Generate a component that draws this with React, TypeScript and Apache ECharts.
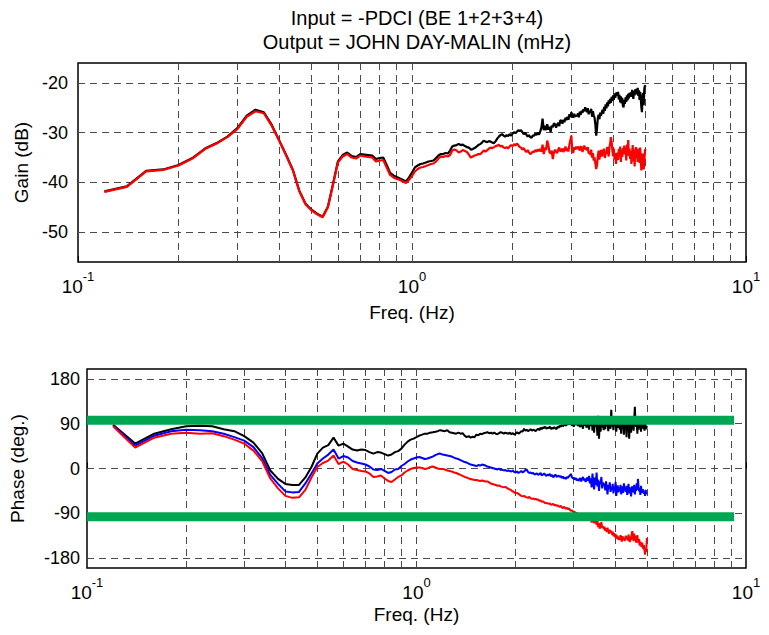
import React, { useEffect, useRef } from "react";
import * as echarts from "echarts";

// Frequency grid (Hz)
const FREQ = [
  0.12, 0.14, 0.16, 0.18, 0.2, 0.22, 0.24, 0.26, 0.28, 0.3,
  0.32, 0.34, 0.36, 0.38, 0.4, 0.42, 0.44, 0.46, 0.48, 0.5,
  0.52, 0.54, 0.56, 0.58, 0.6, 0.62, 0.64, 0.66, 0.68, 0.7,
  0.72, 0.74, 0.76, 0.78, 0.8, 0.82, 0.84, 0.86, 0.88, 0.9,
  0.92, 0.94, 0.96, 0.98, 1.0, 1.02, 1.04, 1.06, 1.08, 1.1,
  1.12, 1.14, 1.16, 1.18, 1.2, 1.22, 1.24, 1.26, 1.28, 1.3,
  1.32, 1.34, 1.36, 1.38, 1.4, 1.42, 1.44, 1.46, 1.48, 1.5,
  1.52, 1.54, 1.56, 1.58, 1.6, 1.62, 1.64, 1.66, 1.68, 1.7,
  1.72, 1.74, 1.76, 1.78, 1.8, 1.82, 1.84, 1.86, 1.88, 1.9,
  1.92, 1.94, 1.96, 1.98, 2.0, 2.02, 2.04, 2.06, 2.08, 2.1,
  2.12, 2.14, 2.16, 2.18, 2.2, 2.22, 2.24, 2.26, 2.28, 2.3,
  2.32, 2.34, 2.36, 2.38, 2.4, 2.42, 2.44, 2.46, 2.48, 2.5,
  2.52, 2.54, 2.56, 2.58, 2.6, 2.62, 2.64, 2.66, 2.68, 2.7,
  2.72, 2.74, 2.76, 2.78, 2.8, 2.82, 2.84, 2.86, 2.88, 2.9,
  2.92, 2.94, 2.96, 2.98, 3.0, 3.02, 3.04, 3.06, 3.08, 3.1,
  3.12, 3.14, 3.16, 3.18, 3.2, 3.22, 3.24, 3.26, 3.28, 3.3,
  3.32, 3.34, 3.36, 3.38, 3.4, 3.42, 3.44, 3.46, 3.48, 3.5,
  3.52, 3.54, 3.56, 3.58, 3.6, 3.62, 3.64, 3.66, 3.68, 3.7,
  3.72, 3.74, 3.76, 3.78, 3.8, 3.82, 3.84, 3.86, 3.88, 3.9,
  3.92, 3.94, 3.96, 3.98, 4.0, 4.02, 4.04, 4.06, 4.08, 4.1,
  4.12, 4.14, 4.16, 4.18, 4.2, 4.22, 4.24, 4.26, 4.28, 4.3,
  4.32, 4.34, 4.36, 4.38, 4.4, 4.42, 4.44, 4.46, 4.48, 4.5,
  4.52, 4.54, 4.56, 4.58, 4.6, 4.62, 4.64, 4.66, 4.68, 4.7,
  4.72, 4.74, 4.76, 4.78, 4.8, 4.82, 4.84, 4.86, 4.88, 4.9,
  4.92, 4.94, 4.96, 4.98, 5.0,
];

// Gain (dB), black trace
const GAIN_BLACK = [
  -41.8, -40.8, -37.7, -37.4, -36.5, -35.1, -33.2, -32.1, -30.8, -29.1,
  -26.6, -25.4, -25.9, -28.4, -31.5, -34.5, -37.5, -41.7, -44.3, -45.5,
  -46.3, -46.9, -44.9, -40.3, -35.8, -34.5, -34.0, -34.7, -34.9, -34.3,
  -34.4, -34.5, -34.6, -35.3, -35.1, -35.0, -36.5, -38.1, -38.6, -38.9,
  -39.2, -39.5, -39.8, -39.0, -38.0, -37.0, -36.6, -36.3, -36.2, -36.0,
  -35.8, -35.7, -35.6, -35.1, -34.6, -34.3, -34.3, -34.1, -34.2, -33.6,
  -32.8, -32.6, -32.5, -32.3, -32.5, -32.4, -32.7, -32.9, -33.0, -33.4,
  -33.3, -33.1, -32.8, -32.5, -32.3, -32.0, -31.6, -31.8, -31.9, -31.7,
  -31.8, -32.0, -32.1, -31.7, -31.2, -30.8, -30.5, -30.3, -30.6, -30.8,
  -30.5, -30.7, -30.3, -30.6, -30.2, -29.9, -30.1, -29.8, -29.5, -29.7,
  -29.5, -29.9, -30.3, -30.0, -30.4, -30.8, -30.5, -30.9, -31.0, -30.6,
  -30.6, -30.2, -30.5, -30.0, -30.4, -29.8, -29.0, -27.2, -29.5, -28.6,
  -29.5, -28.3, -29.4, -28.8, -29.9, -28.6, -28.9, -28.1, -28.3, -29.0,
  -28.4, -28.0, -28.7, -27.5, -27.6, -28.2, -27.4, -27.9, -27.0, -27.5,
  -26.8, -27.4, -26.3, -26.9, -25.9, -26.5, -27.0, -26.2, -26.8, -26.5,
  -26.7, -26.1, -26.9, -25.8, -26.4, -25.6, -26.0, -25.3, -25.7, -24.9,
  -25.4, -25.9, -25.1, -26.3, -25.6, -26.0, -25.2, -26.8, -25.7, -26.5,
  -27.0, -28.4, -30.6, -29.2, -27.1, -26.4, -27.3, -26.0, -26.6, -25.9,
  -25.4, -26.2, -24.8, -25.6, -24.3, -25.1, -23.9, -24.7, -23.5, -24.2,
  -23.2, -24.0, -22.8, -23.6, -22.5, -23.4, -22.1, -23.0, -22.4, -21.9,
  -22.6, -21.8, -23.3, -22.4, -23.9, -22.7, -24.1, -23.0, -24.6, -24.9,
  -23.4, -24.2, -22.9, -23.8, -22.5, -23.5, -22.2, -23.1, -22.0, -22.6,
  -21.9, -22.8, -21.4, -22.3, -23.2, -21.6, -22.5, -21.3, -22.0, -21.2,
  -22.3, -21.0, -22.6, -21.5, -23.4, -21.8, -22.9, -24.8, -25.9, -23.0,
  -22.0, -24.5, -21.3, -20.5, -20.8,
];

// Gain (dB), red trace
const GAIN_RED = [
  -41.9, -40.9, -37.8, -37.5, -36.6, -35.2, -33.3, -32.2, -30.9, -29.3,
  -26.8, -25.7, -26.1, -28.6, -31.6, -34.6, -37.6, -41.8, -44.4, -45.6,
  -46.4, -47.0, -45.0, -40.5, -36.0, -34.8, -34.3, -35.0, -35.2, -34.6,
  -34.8, -34.9, -35.0, -35.8, -35.6, -35.5, -37.0, -38.5, -39.0, -39.3,
  -39.5, -39.8, -40.1, -39.5, -38.7, -37.8, -37.3, -37.0, -36.9, -36.7,
  -36.5, -36.3, -36.2, -35.8, -35.2, -34.8, -34.9, -34.7, -34.8, -34.5,
  -33.6, -33.4, -33.6, -34.0, -33.8, -33.5, -33.7, -33.9, -34.4, -35.0,
  -34.8, -34.6, -34.5, -34.3, -34.3, -34.0, -33.6, -33.8, -33.5, -33.2,
  -33.0, -33.1, -32.9, -32.7, -32.6, -32.4, -32.8, -32.6, -33.0, -33.1,
  -32.9, -33.2, -32.8, -32.5, -32.7, -32.3, -32.6, -32.2, -32.5, -32.9,
  -33.0, -33.4, -33.1, -33.6, -33.9, -33.5, -34.0, -34.3, -34.1, -33.8,
  -33.9, -33.5, -33.8, -33.4, -33.7, -33.3, -33.8, -32.4, -34.3, -33.0,
  -33.5, -31.6, -32.5, -33.9, -34.2, -33.6, -35.3, -34.0, -33.4, -33.9,
  -34.1, -33.4, -33.0, -33.8, -33.6, -33.2, -33.9, -33.5, -32.8, -33.7,
  -33.1, -33.8, -32.4, -31.6, -30.6, -33.9, -34.0, -32.9, -33.4, -32.8,
  -33.3, -32.8, -33.1, -33.6, -32.7, -33.2, -33.9, -33.0, -32.6, -33.4,
  -33.0, -33.6, -32.9, -34.2, -33.8, -34.5, -33.4, -35.0, -34.1, -35.6,
  -35.0, -36.2, -37.3, -36.5, -34.8, -33.6, -35.4, -34.2, -33.5, -34.8,
  -33.4, -34.6, -33.2, -35.1, -33.8, -34.3, -32.9, -33.7, -34.8, -33.0,
  -32.2, -30.9, -31.8, -33.5, -34.7, -33.2, -35.4, -34.1, -36.3, -35.0,
  -34.0, -35.5, -33.3, -34.6, -32.8, -35.9, -33.6, -34.9, -33.1, -34.4,
  -32.6, -34.2, -33.0, -35.6, -32.4, -33.9, -31.5, -34.7, -33.2, -35.3,
  -33.7, -36.3, -34.0, -32.5, -35.8, -33.4, -36.8, -34.2, -32.9, -35.1,
  -33.8, -35.9, -33.2, -34.6, -36.1, -33.0, -35.0, -37.6, -36.4, -34.2,
  -35.5, -37.4, -36.0, -33.8, -33.3,
];

// Phase (deg.), black trace
const PHASE_BLACK = [
  88, 50, 70, 79, 85, 86, 85, 79, 75, 65,
  52, 31, -4, -21, -31, -33, -33, -18, 3, 30,
  42, 47, 62, 46, 50, 44, 38, 36, 38, 37,
  33, 30, 33, 32, 29, 26, 28, 33, 35, 40,
  48, 54, 58, 60, 63, 66, 68, 70, 70, 72,
  73, 74, 75, 77, 76, 75, 77, 73, 72, 71,
  70, 72, 70, 71, 66, 63, 65, 62, 64, 63,
  68, 67, 70, 69, 71, 72, 73, 71, 72, 70,
  72, 70, 69, 71, 73, 72, 70, 72, 71, 70,
  72, 69, 71, 68, 70, 73, 70, 72, 75, 74,
  80, 76, 78, 75, 77, 79, 76, 78, 77, 75,
  78, 80, 77, 82, 79, 83, 81, 84, 80, 82,
  81, 84, 79, 82, 80, 83, 81, 79, 84, 82,
  86, 84, 88, 85, 87, 89, 86, 90, 88, 91,
  89, 93, 86, 91, 84, 90, 95, 87, 92, 85,
  90, 83, 94, 88, 80, 92, 86, 95, 82, 89,
  93, 78, 99, 85, 104, 76, 92, 72, 101, 84,
  95, 66, 106, 60, 90, 74, 98, 83, 88, 77,
  94, 79, 101, 85, 92, 75, 97, 88, 80, 118,
  84, 93, 77, 100, 86, 91, 74, 95, 82, 89,
  96, 78, 88, 70, 99, 83, 91, 68, 94, 80,
  87, 63, 97, 75, 92, 60, 85, 98, 72, 90,
  81, 95, 76, 102, 124, 88, 84, 93, 70, 97,
  78, 91, 85, 96, 74, 89, 100, 80, 92, 86,
  76, 94, 83, 79, 86,
];

// Phase (deg.), blue trace
const PHASE_BLUE = [
  87, 46, 66, 75, 78, 77, 75, 70, 63, 56,
  43, 21, -13, -31, -46, -48, -47, -30, -10, 10,
  20, 28, 38, 20, 25, 22, 15, 12, 10, 8,
  4, -2, -3, -1, -5, -9, -7, -2, -1, 5,
  9, 14, 18, 20, 22, 23, 21, 19, 20, 22,
  24, 27, 29, 30, 28, 27, 26, 25, 24, 22,
  20, 19, 17, 15, 13, 12, 10, 8, 7, 6,
  5, 7, 6, 8, 7, 6, 4, 3, 2, 1,
  0, -1, -2, 0, -3, -2, -4, -3, -5, -4,
  -5, -6, -4, -7, -8, -6, -9, -7, -5, -8,
  -6, -3, -2, -7, -9, -8, -10, -9, -12, -11,
  -10, -13, -11, -9, -14, -12, -10, -13, -15, -12,
  -14, -11, -16, -13, -18, -15, -12, -17, -16, -14,
  -17, -15, -19, -16, -20, -18, -21, -17, -19, -16,
  -14, -11, -16, -20, -18, -22, -19, -24, -21, -25,
  -22, -19, -26, -21, -17, -24, -20, -27, -23, -18,
  -25, -15, -30, -20, -38, -10, -28, -42, -18, -33,
  -8, -36, -22, -45, -26, -31, -17, -40, -28, -35,
  -30, -44, -26, -39, -52, -33, -41, -28, -47, -37,
  -43, -31, -50, -36, -45, -27, -55, -40, -34, -48,
  -38, -46, -33, -52, -41, -36, -49, -30, -44, -39,
  -47, -35, -53, -42, -31, -50, -38, -45, -56, -40,
  -36, -48, -41, -33, -52, -39, -45, -30, -43, -21,
  -37, -46, -40, -53, -35, -44, -49, -42, -45, -51,
  -47, -55, -43, -50, -52,
];

// Phase (deg.), red trace
const PHASE_RED = [
  85, 42, 62, 70, 72, 70, 71, 65, 58, 50,
  36, 15, -20, -40, -55, -59, -58, -43, -18, 3,
  11, 16, 26, 9, 14, 8, -1, -3, -5, -6,
  -10, -17, -16, -14, -20, -25, -27, -22, -17, -14,
  -8, -4, -1, 1, 2, 2, 1, -1, 0, 3,
  4, 2, 0, -1, -1, -2, -4, -5, -6, -8,
  -9, -11, -13, -15, -17, -18, -20, -21, -22, -23,
  -23, -24, -25, -24, -25, -26, -26, -28, -30, -31,
  -32, -33, -35, -34, -36, -37, -38, -37, -39, -41,
  -42, -44, -46, -48, -50, -49, -51, -53, -55, -56,
  -55, -57, -58, -59, -57, -60, -61, -60, -62, -61,
  -63, -62, -65, -64, -67, -66, -68, -70, -69, -70,
  -71, -70, -73, -72, -71, -74, -73, -75, -74, -76,
  -77, -75, -78, -80, -77, -79, -81, -79, -82, -80,
  -83, -85, -84, -86, -88, -87, -90, -89, -91, -92,
  -93, -95, -94, -96, -93, -97, -99, -96, -92, -98,
  -101, -94, -105, -97, -109, -95, -104, -110, -99, -107,
  -113, -105, -118, -110, -121, -114, -108, -119, -116, -122,
  -117, -125, -120, -128, -119, -126, -131, -123, -129, -125,
  -133, -127, -136, -130, -138, -132, -141, -135, -139, -143,
  -137, -144, -134, -141, -147, -136, -143, -139, -146, -140,
  -135, -142, -138, -145, -133, -140, -148, -137, -144, -130,
  -126, -139, -146, -131, -143, -136, -149, -141, -134, -145,
  -150, -142, -155, -147, -152, -158, -149, -156, -162, -154,
  -165, -173, -160, -168, -140,
];

// Reference (green) lines in the phase plot
const GREEN_FREQ = [0.1, 9.2];
const GREEN_LEVELS = [97, -97];

// Grid / tick positions
const X_GRID = [0.2, 0.3, 0.4, 0.5, 0.6, 0.7, 0.8, 0.9, 1, 2, 3, 4, 5, 6, 7, 8, 9];
const GAIN_TICKS = [-50, -40, -30, -20];
const PHASE_TICKS = [-180, -90, 0, 90, 180];

const FONT = "'Liberation Sans', Arial, Helvetica, sans-serif";

const zip = (xs: number[], ys: number[]) => xs.map((x, i) => [x, ys[i]]);

const gridLines = (yTicks: number[]) => ({
  silent: true,
  symbol: ["none", "none"],
  z: 1,
  label: { show: false },
  emphasis: { disabled: true },
  lineStyle: { color: "#4a4a4a", width: 1, type: [7, 5] },
  data: [
    ...X_GRID.map((v) => ({ xAxis: v })),
    ...yTicks.map((v) => ({ yAxis: v })),
  ],
});

const xAxisFor = (gridIndex: number, nameGap: number) => ({
  type: "log",
  logBase: 10,
  gridIndex,
  min: 0.1,
  max: 10,
  axisLine: { show: false },
  splitLine: { show: false },
  axisTick: { show: true, inside: true, length: 6, lineStyle: { color: "#000", width: 1 } },
  axisLabel: {
    margin: 8,
    formatter: (v: number) => `{b|10}{s|${Math.round(Math.log10(v))}}`,
    rich: {
      b: { fontSize: 19, fontFamily: FONT, color: "#000", lineHeight: 32 },
      s: { fontSize: 13, fontFamily: FONT, color: "#000", verticalAlign: "top", lineHeight: 14 },
    },
  },
  name: "Freq. (Hz)",
  nameLocation: "middle",
  nameGap,
  nameTextStyle: { fontSize: 19, fontFamily: FONT, color: "#000" },
});

const yAxisFor = (gridIndex: number, min: number, max: number, ticks: number[], name: string, nameGap: number, margin: number) => ({
  type: "value",
  gridIndex,
  min,
  max,
  axisLine: { show: false },
  splitLine: { show: false },
  axisTick: { show: true, inside: true, length: 6, customValues: ticks, lineStyle: { color: "#000", width: 1 } },
  axisLabel: { customValues: ticks, fontSize: 18, fontFamily: FONT, color: "#000", margin },
  name,
  nameLocation: "middle",
  nameGap,
  nameTextStyle: { fontSize: 19, fontFamily: FONT, color: "#000" },
});

const lineSeries = (name: string, x: number, y: number, data: number[][], color: string, width: number, z: number, extra: any = {}) => ({
  name,
  type: "line",
  xAxisIndex: x,
  yAxisIndex: y,
  data,
  showSymbol: false,
  symbol: "none",
  silent: true,
  z,
  lineStyle: { color, width },
  itemStyle: { color },
  emphasis: { disabled: true },
  ...extra,
});

export default function App() {
  const ref = useRef<HTMLDivElement>(null);

  useEffect(() => {
    if (!ref.current) return;
    const chart = echarts.init(ref.current, undefined, { renderer: "svg" });
    const option: any = {
      animation: false,
      backgroundColor: "#ffffff",
      textStyle: { fontFamily: FONT },
      title: {
        text: "Input = -PDCI (BE 1+2+3+4)\nOutput = JOHN DAY-MALIN (mHz)",
        left: 412,
        top: 1,
        textAlign: "center",
        textStyle: { fontSize: 20, fontWeight: "normal", color: "#000", fontFamily: FONT, lineHeight: 24 },
      },
      grid: [
        { left: 78, top: 63, width: 668, height: 199, show: true, borderColor: "#000", borderWidth: 1.5, backgroundColor: "transparent" },
        { left: 78, top: 369, width: 668, height: 199, show: true, borderColor: "#000", borderWidth: 1.5, backgroundColor: "transparent" },
      ],
      xAxis: [xAxisFor(0, 41), xAxisFor(1, 37)],
      yAxis: [
        yAxisFor(0, -56, -16, GAIN_TICKS, "Gain (dB)", 47, 10),
        yAxisFor(1, -200, 200, PHASE_TICKS, "Phase (deg.)", 60, 7),
      ],
      series: [
        lineSeries("Gain black", 0, 0, zip(FREQ, GAIN_BLACK), "#000000", 2.2, 3, { markLine: gridLines(GAIN_TICKS) }),
        lineSeries("Gain red", 0, 0, zip(FREQ, GAIN_RED), "#ff0000", 2.2, 4),
        lineSeries("Phase black", 1, 1, zip(FREQ, PHASE_BLACK), "#000000", 2, 3, { markLine: gridLines(PHASE_TICKS) }),
        lineSeries("Phase blue", 1, 1, zip(FREQ, PHASE_BLUE), "#0000ff", 2, 4),
        lineSeries("Phase red", 1, 1, zip(FREQ, PHASE_RED), "#ff0000", 2, 5),
        ...GREEN_LEVELS.map((lvl, i) =>
          lineSeries("Green " + i, 1, 1, GREEN_FREQ.map((f) => [f, lvl]), "#00a651", 9, 6)
        ),
      ],
    };
    chart.setOption(option);
    return () => chart.dispose();
  }, []);

  return <div ref={ref} style={{ position: "absolute", left: 0, top: 0, width: 769, height: 635 }} />;
}
